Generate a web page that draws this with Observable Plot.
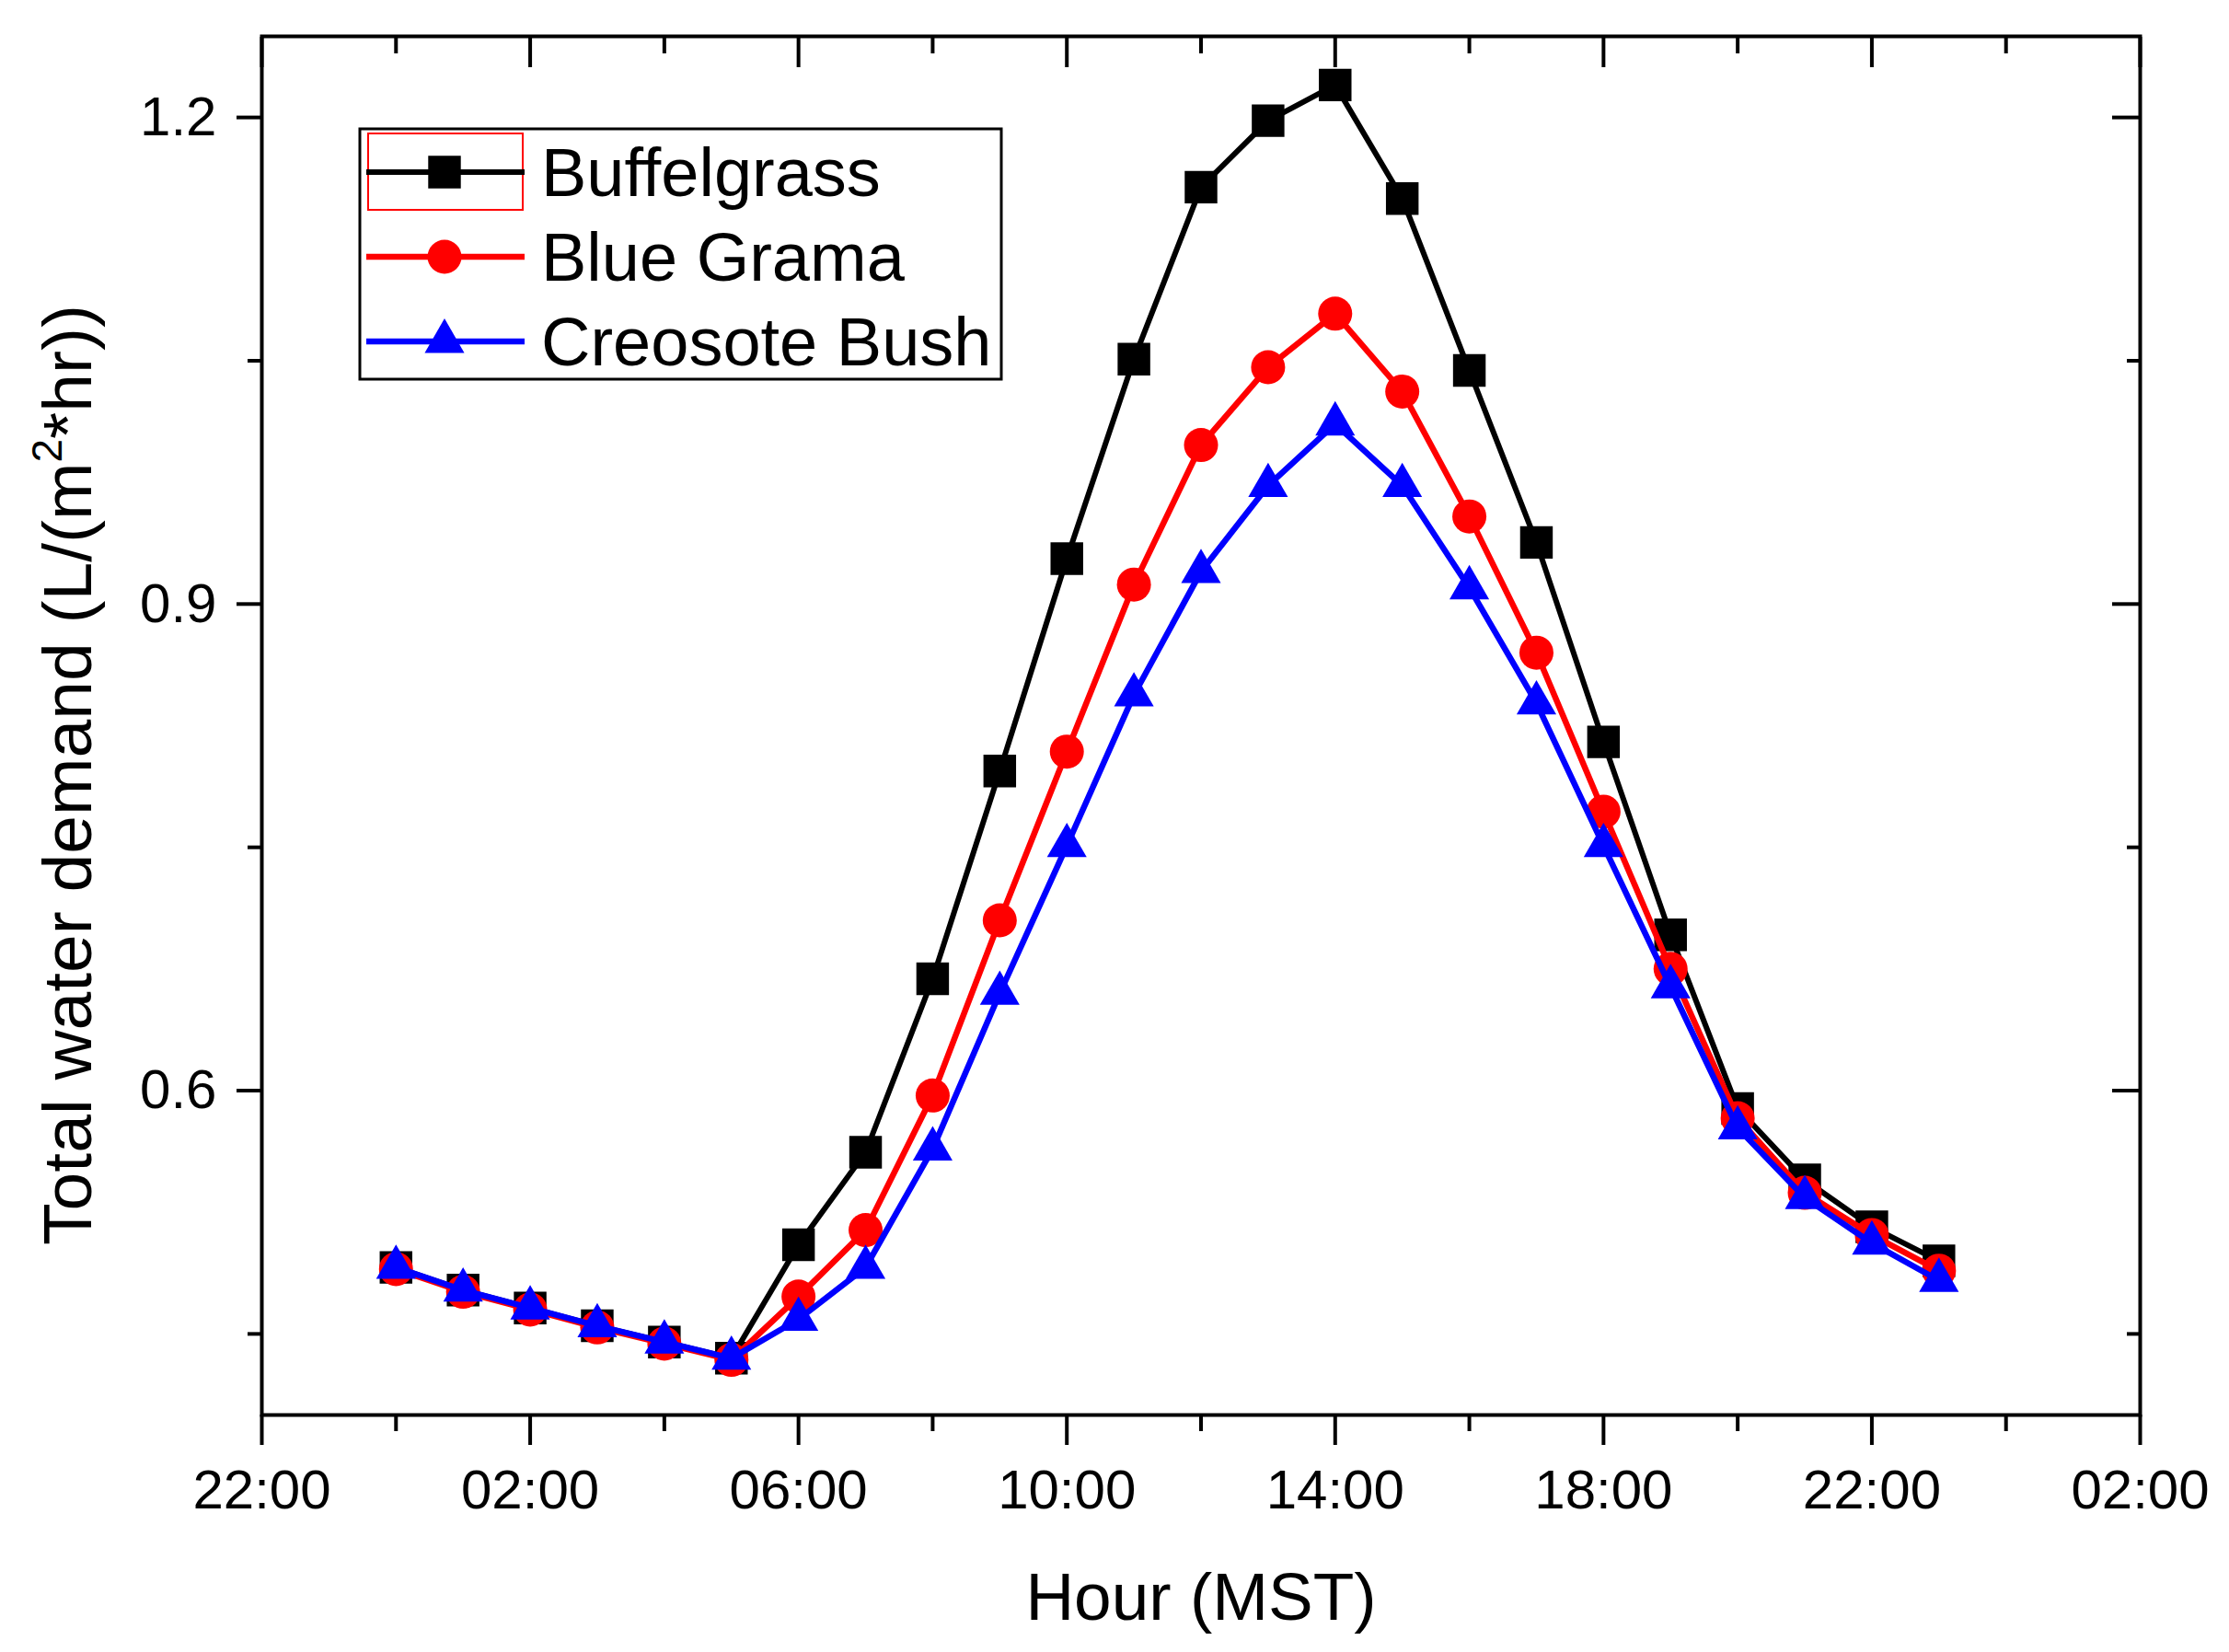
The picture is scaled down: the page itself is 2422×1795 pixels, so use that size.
<!DOCTYPE html>
<html>
<head>
<meta charset="utf-8">
<script src="https://cdn.jsdelivr.net/npm/d3@7"></script>
<script src="https://cdn.jsdelivr.net/npm/@observablehq/plot@0.6"></script>
<style>
  body { margin: 0; background: #fff; }
</style>
</head>
<body>
<div id="chart"></div>
<script>
// hours (MST) of the day
const hours = [0, 1, 2, 3, 4, 5, 6, 7, 8, 9, 10, 11, 12, 13, 14, 15, 16, 17, 18, 19, 20, 21, 22, 23];

// total water demand, L/(m2*hr)
const buffelgrass  = [0.491, 0.477, 0.466, 0.455, 0.445, 0.435, 0.505, 0.562, 0.669, 0.797, 0.928, 1.051, 1.157, 1.198, 1.220, 1.150, 1.044, 0.938, 0.815, 0.696, 0.589, 0.545, 0.516, 0.495];
const blueGrama    = [0.490, 0.476, 0.465, 0.454, 0.444, 0.434, 0.473, 0.514, 0.597, 0.705, 0.809, 0.912, 0.998, 1.046, 1.079, 1.031, 0.954, 0.870, 0.772, 0.675, 0.583, 0.537, 0.511, 0.489];
const creosoteBush = [0.491, 0.477, 0.466, 0.455, 0.445, 0.435, 0.459, 0.491, 0.564, 0.660, 0.751, 0.844, 0.920, 0.973, 1.011, 0.973, 0.910, 0.839, 0.751, 0.664, 0.577, 0.534, 0.506, 0.483];

const seriesNames = ["Buffelgrass", "Blue Grama", "Creosote Bush"];

// axis ticks
const xMajor = [-2, 2, 6, 10, 14, 18, 22, 26];
const xMinor = [0, 4, 8, 12, 16, 20, 24];
const yMajor = [0.6, 0.9, 1.2];
const yMinor = [0.45, 0.75, 1.05];

// look of each series
const seriesStyle = {
  "Buffelgrass":   {color: "#000000", symbol: "square",   r: 20,   width: 6},
  "Blue Grama":    {color: "#ff0000", symbol: "circle",   r: 18.5, width: 6.5},
  "Creosote Bush": {color: "#0000ff", symbol: "triangle", r: 16,   width: 6.5}
};

const toRows = (name, values) => hours.map((h, i) => ({series: name, hour: h, value: values[i]}));
const seriesData = {
  "Buffelgrass": toRows("Buffelgrass", buffelgrass),
  "Blue Grama": toRows("Blue Grama", blueGrama),
  "Creosote Bush": toRows("Creosote Bush", creosoteBush)
};

const hourLabel = h => String((h + 24) % 24).padStart(2, "0") + ":00";
const noLabel = () => "";
const font = "'Liberation Sans', Arial, sans-serif";

let seriesMarks = [];
seriesNames.forEach(name => {
  const s = seriesStyle[name];
  seriesMarks.push(Plot.line(seriesData[name], {x: "hour", y: "value", stroke: s.color, strokeWidth: s.width}));
  seriesMarks.push(Plot.dot(seriesData[name], {x: "hour", y: "value", symbol: () => s.symbol, r: s.r, fill: s.color, stroke: "none"}));
});

const chart = Plot.plot({
  width: 2422,
  height: 1795,
  marginLeft: 284,
  marginRight: 97,
  marginTop: 39,
  marginBottom: 258,
  style: {fontFamily: font, fontSize: "60px", color: "#000", background: "#fff"},
  x: {domain: [-2, 26]},
  y: {domain: [0.4, 1.25]},
  marks: [
    // bottom axis: major with labels, minor without
    Plot.axisX({ticks: xMajor, tickSize: 33, tickPadding: 26, tickFormat: hourLabel, strokeWidth: 4, label: null, fontSize: 60}),
    Plot.axisX({ticks: xMinor, tickSize: 18, tickFormat: noLabel, strokeWidth: 4, label: null}),
    // top ticks point inward
    Plot.axisX({anchor: "top", ticks: xMajor, tickSize: -33, tickFormat: noLabel, strokeWidth: 4, label: null}),
    Plot.axisX({anchor: "top", ticks: xMinor, tickSize: -18, tickFormat: noLabel, strokeWidth: 4, label: null}),
    // left axis
    Plot.axisY({ticks: yMajor, tickSize: 27, tickPadding: 22, tickFormat: d3.format(".1f"), strokeWidth: 4, label: null, fontSize: 60}),
    Plot.axisY({ticks: yMinor, tickSize: 15, tickFormat: noLabel, strokeWidth: 4, label: null}),
    // right ticks point inward
    Plot.axisY({anchor: "right", ticks: yMajor, tickSize: -31, tickFormat: noLabel, strokeWidth: 4, label: null}),
    Plot.axisY({anchor: "right", ticks: yMinor, tickSize: -15, tickFormat: noLabel, strokeWidth: 4, label: null}),
    Plot.frame({stroke: "#000", strokeWidth: 4}),
    ...seriesMarks
  ]
});

document.querySelector("#chart").append(chart);

const svg = d3.select(chart);

// axis titles
svg.append("text")
  .attr("x", 1305).attr("y", 1760)
  .attr("text-anchor", "middle")
  .style("font-family", font).style("font-size", "73px").attr("fill", "#000")
  .text("Hour (MST)");

const yTitle = svg.append("text")
  .attr("transform", "translate(99,842) rotate(-90)")
  .attr("text-anchor", "middle")
  .style("font-family", font).style("font-size", "75px").attr("fill", "#000");
yTitle.append("tspan").text("Total water demand (L/(m");
yTitle.append("tspan").attr("dy", -32).style("font-size", "46px").text("2");
yTitle.append("tspan").attr("dy", 32).text("*hr))");

// legend box inside the plot area
const legend = svg.append("g");
legend.append("rect")
  .attr("x", 391).attr("y", 140).attr("width", 697).attr("height", 272)
  .attr("fill", "#fff").attr("stroke", "#000").attr("stroke-width", 3);
legend.append("rect")
  .attr("x", 400).attr("y", 145).attr("width", 168).attr("height", 83)
  .attr("fill", "none").attr("stroke", "#ff0000").attr("stroke-width", 2);

const legendRows = [187, 279, 371];
seriesNames.forEach((name, i) => {
  const s = seriesStyle[name];
  const y = legendRows[i];
  legend.append("line")
    .attr("x1", 398).attr("x2", 570).attr("y1", y).attr("y2", y)
    .attr("stroke", s.color).attr("stroke-width", s.width);
  const sym = {square: d3.symbolSquare, circle: d3.symbolCircle, triangle: d3.symbolTriangle}[s.symbol];
  legend.append("path")
    .attr("transform", `translate(483,${y})`)
    .attr("d", d3.symbol(sym, s.r * s.r * Math.PI)())
    .attr("fill", s.color);
  legend.append("text")
    .attr("x", 588).attr("y", y + 26)
    .attr("text-anchor", "start")
    .style("font-family", font).style("font-size", "74px").attr("fill", "#000")
    .text(name);
});
</script>
</body>
</html>
